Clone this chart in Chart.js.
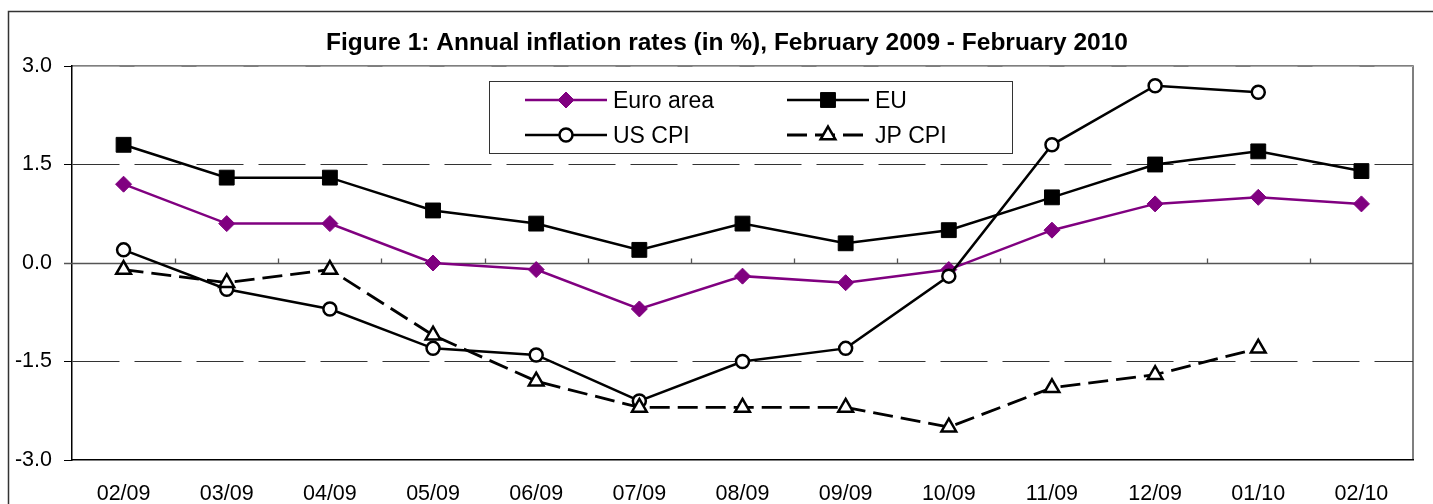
<!DOCTYPE html>
<html>
<head>
<meta charset="utf-8">
<script src="https://cdn.jsdelivr.net/npm/chart.js@4/dist/chart.umd.min.js"></script>
<style>
  body { margin: 0; background: #fff; }
  #wrap { width: 1433px; height: 504px; }
</style>
</head>
<body>
<div id="wrap"><canvas id="inflationChart" width="1433" height="504"></canvas></div>
<script>
// monthly data, Feb 2009 - Feb 2010
const categories = ['02/09', '03/09', '04/09', '05/09', '06/09', '07/09', '08/09',
                    '09/09', '10/09', '11/09', '12/09', '01/10', '02/10'];
const euroArea = [1.2, 0.6, 0.6, 0.0, -0.1, -0.7, -0.2, -0.3, -0.1, 0.5, 0.9, 1.0, 0.9];
const eu       = [1.8, 1.3, 1.3, 0.8, 0.6, 0.2, 0.6, 0.3, 0.5, 1.0, 1.5, 1.7, 1.4];
const usCpi    = [0.2, -0.4, -0.7, -1.3, -1.4, -2.1, -1.5, -1.3, -0.2, 1.8, 2.7, 2.6, null];
const jpCpi    = [-0.1, -0.3, -0.1, -1.1, -1.8, -2.2, -2.2, -2.2, -2.5, -1.9, -1.7, -1.3, null];
const yTicks   = [-3.0, -1.5, 0.0, 1.5, 3.0];

const FONT = "'Liberation Sans', Arial, sans-serif";
const titleText = 'Figure 1: Annual inflation rates (in %), February 2009 - February 2010';

// frame, title, zero axis and the boxed legend
const decor = {
    id: 'decor',
    beforeDraw(chart) {
        const { ctx, chartArea: a } = chart;
        ctx.save();
        ctx.strokeStyle = '#333';
        ctx.lineWidth = 1.5;
        ctx.beginPath();
        ctx.moveTo(8.5, 504);
        ctx.lineTo(8.5, 11.5);
        ctx.lineTo(1433, 11.5);
        ctx.stroke();

        ctx.fillStyle = '#000';
        ctx.font = 'bold 24.5px ' + FONT;
        ctx.textAlign = 'center';
        ctx.textBaseline = 'alphabetic';
        ctx.fillText(titleText, 727, 50);

        ctx.strokeStyle = '#555';
        ctx.lineWidth = 1.5;
        ctx.beginPath();
        ctx.moveTo(a.left, a.top);
        ctx.lineTo(a.right, a.top);
        ctx.lineTo(a.right, a.bottom);
        ctx.stroke();
        ctx.restore();
    },
    beforeDatasetsDraw(chart) {
        const { ctx, chartArea: a } = chart;
        const y0 = Math.round(chart.scales.y.getPixelForValue(0)) + 0.5;
        const n = categories.length;
        ctx.save();
        ctx.strokeStyle = '#555';
        ctx.lineWidth = 1.3;
        ctx.beginPath();
        ctx.moveTo(a.left - 8, y0);
        ctx.lineTo(a.right, y0);
        for (let i = 1; i < n; i++) {
            const xp = Math.round(a.left + i * (a.right - a.left) / n) + 0.5;
            ctx.moveTo(xp, y0);
            ctx.lineTo(xp, y0 - 5);
        }
        ctx.stroke();
        ctx.restore();
    },
    afterDraw(chart) {
        const { ctx } = chart;
        ctx.save();
        ctx.fillStyle = '#fff';
        ctx.fillRect(489.5, 81.5, 523, 72);
        ctx.strokeStyle = '#333';
        ctx.lineWidth = 1;
        ctx.strokeRect(489.5, 81.5, 523, 72);

        const slots = [[525, 100], [787, 100], [525, 135], [787, 135]];
        chart.data.datasets.forEach((ds, i) => {
            const [x, y] = slots[i];
            ctx.strokeStyle = ds.borderColor;
            ctx.lineWidth = ds.borderWidth;
            ctx.setLineDash(ds.borderDash || []);
            ctx.beginPath();
            ctx.moveTo(x, y);
            ctx.lineTo(x + 82, y);
            ctx.stroke();
            ctx.setLineDash([]);
            ctx.fillStyle = ds.pointBackgroundColor;
            ctx.strokeStyle = ds.pointBorderColor;
            ctx.lineWidth = ds.pointBorderWidth;
            Chart.helpers.drawPoint(ctx, {
                pointStyle: ds.pointStyle,
                radius: ds.pointRadius,
                rotation: 0,
                borderWidth: ds.pointBorderWidth
            }, x + 41, y);
            ctx.fillStyle = '#000';
            ctx.font = '23px ' + FONT;
            ctx.textAlign = 'left';
            ctx.textBaseline = 'alphabetic';
            ctx.fillText(ds.label, x + 88, y + 8);
        });
        ctx.restore();
    }
};

const ctx = document.getElementById('inflationChart').getContext('2d');
new Chart(ctx, {
    type: 'line',
    data: {
        labels: categories,
        datasets: [
            { label: 'Euro area', data: euroArea, order: 4,
              borderColor: '#800080', borderWidth: 2.5,
              pointStyle: 'rectRot', pointRadius: 8,
              pointBackgroundColor: '#800080', pointBorderColor: '#800080', pointBorderWidth: 1 },
            { label: 'EU', data: eu, order: 3,
              borderColor: '#000', borderWidth: 2.5,
              pointStyle: 'rect', pointRadius: 10.5,
              pointBackgroundColor: '#000', pointBorderColor: '#000', pointBorderWidth: 1 },
            { label: 'US CPI', data: usCpi, order: 2,
              borderColor: '#000', borderWidth: 2.5,
              pointStyle: 'circle', pointRadius: 6.5,
              pointBackgroundColor: '#fff', pointBorderColor: '#000', pointBorderWidth: 2.5 },
            { label: 'JP CPI', data: jpCpi, order: 1,
              borderColor: '#000', borderWidth: 2.8, borderDash: [20, 8],
              pointStyle: 'triangle', pointRadius: 8.5,
              pointBackgroundColor: '#fff', pointBorderColor: '#000', pointBorderWidth: 2.5 }
        ]
    },
    options: {
        responsive: false,
        animation: false,
        layout: { padding: { top: 66, right: 20, left: 0, bottom: 0 } },
        elements: { line: { tension: 0, fill: false } },
        plugins: {
            legend: { display: false },
            title: { display: false },
            tooltip: { enabled: false }
        },
        scales: {
            x: {
                offset: true,
                grid: { display: false },
                border: { color: '#000', width: 1.5 },
                ticks: { padding: 13, color: '#000', font: { size: 21.5, family: FONT },
                         maxRotation: 0, autoSkip: false },
                afterFit(s) { s.height = 44; }
            },
            y: {
                min: yTicks[0],
                max: yTicks[yTicks.length - 1],
                afterFit(s) { s.width = 72; },
                ticks: { stepSize: yTicks[1] - yTicks[0], padding: 12, color: '#000',
                         font: { size: 21.5, family: FONT },
                         callback: v => v.toFixed(1) },
                grid: {
                    color: c => {
                        const v = c.tick ? c.tick.value : null;
                        if (v === 0 || v === yTicks[0]) return 'rgba(0,0,0,0)';
                        if (v === yTicks[yTicks.length - 1]) return '#aaa';
                        return '#333';
                    },
                    lineWidth: 1,
                    tickColor: '#000',
                    tickLength: 8,
                    tickBorderDash: []
                },
                border: { color: '#000', width: 1.5, dash: [47, 15] }
            }
        }
    },
    plugins: [decor]
});
</script>
</body>
</html>
